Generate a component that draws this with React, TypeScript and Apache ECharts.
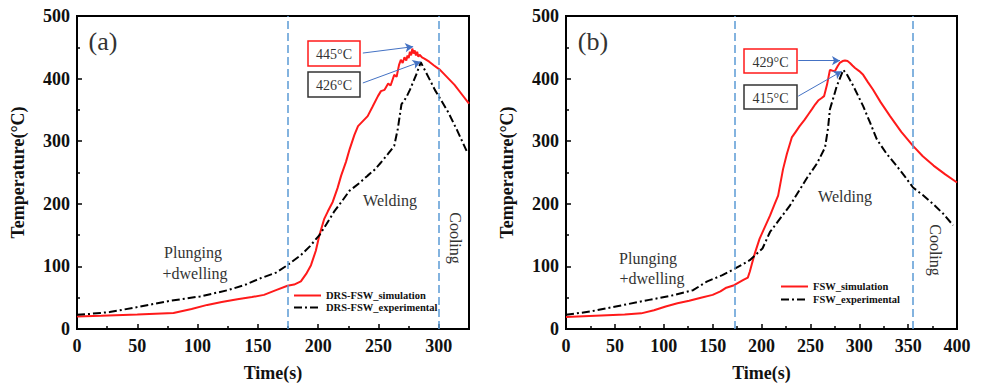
import React, { useEffect, useRef } from "react";
import * as echarts from "echarts";

const FONT = '"Liberation Serif", "Times New Roman", serif';

// Panel (a): DRS-FSW
const aSimX = [0, 20, 50, 80, 95, 108, 120, 133, 145, 155, 165, 174.5, 180, 185.6, 190, 194, 198, 201, 205, 208, 212, 216, 219, 223, 226, 230, 233, 237, 241, 245, 249.5, 252, 255, 258, 260, 263, 265, 267, 268.5, 270, 271.5, 273, 274, 275, 276, 277, 278, 279, 280, 281, 282, 283, 284, 286, 288, 292, 296, 301, 307, 313, 319, 325];
const aSimY = [20, 21, 23, 25.5, 32, 38.5, 43, 47.5, 51, 54.5, 62, 69, 71, 76, 88, 102, 125, 150, 176, 188, 203, 225, 245, 267, 287, 310, 324, 332, 340, 355, 372, 380, 382, 392, 389, 406, 403, 422, 430, 425, 434, 429, 437, 433, 443, 437, 448, 440, 445, 437, 443, 435, 438, 434, 432, 427, 421, 414, 402, 390, 375, 360];
const aExpX = [0, 10, 27, 50, 77, 102, 125, 140, 152, 165, 174.5, 185.6, 193, 201, 207, 213, 220, 226, 234, 241, 247, 252, 258, 263, 266, 269, 273, 276, 281, 285, 288, 292, 296.7, 302, 308, 315, 323];
const aExpY = [22.7, 24, 27, 35, 45, 52, 62, 71, 81, 90, 102, 118, 132, 150, 168, 187, 205, 221, 233, 245, 255, 266, 280, 292.5, 320, 359, 370, 382, 405, 426, 415, 400, 382, 365, 345.5, 318, 284.6];

// Panel (b): FSW
const bSimX = [0, 30, 60, 77, 90, 102, 114, 126, 138, 150, 158, 164, 172, 181, 186, 188, 190, 193, 198, 202, 208.7, 213, 217, 222, 226, 231, 235, 239, 244, 248, 252, 255, 258, 261.6, 264, 267, 270, 272, 275, 278, 280, 283, 285.4, 288, 290.5, 293, 295.7, 300, 304, 309, 314, 322, 331.5, 343, 355, 365, 376, 388, 400];
const bSimY = [19, 21, 23, 25, 30, 36, 41, 45, 50, 54.5, 60, 66, 70, 78, 82, 91.5, 103, 120, 144, 158, 181, 198, 213, 255, 280, 306, 315, 324, 334, 343, 352, 359, 365, 369, 372, 390, 414, 413, 411.6, 420, 425, 428, 429, 428, 425, 421, 417, 412, 406, 394, 382.5, 362, 340, 315, 292.5, 276, 261, 247, 234];
const bExpX = [0, 25, 51, 85, 110, 130, 144, 160, 172, 188, 201, 208.7, 229, 246, 257, 265, 268, 270, 274, 277, 283.7, 288, 294, 299, 304, 311, 318, 328, 338, 346, 355, 365, 376, 386, 396];
const bExpY = [22.7, 28, 36, 46.5, 54, 62, 75.7, 86, 95.7, 110, 128.6, 155, 197, 240, 265, 290, 320, 351, 372, 388, 414, 405, 388, 372, 356, 330, 303, 280, 261, 245, 226, 214, 199, 184, 165.6];

const aPhaseLines = [175, 300];
const bPhaseLines = [173, 355];
const aPeaks = { sim: 445, exp: 426 };
const bPeaks = { sim: 429, exp: 415 };

const zip = (xs: number[], ys: number[]) => xs.map((x, i) => [x, ys[i]]);

export default function App() {
  const ref = useRef<HTMLDivElement>(null);
  useEffect(() => {
    if (!ref.current) return;
    const chart = echarts.init(ref.current, null, { renderer: "svg" });

    const axisLabel = { fontFamily: FONT, fontWeight: "bold", fontSize: 18, color: "#111" };
    const nameStyle = { fontFamily: FONT, fontWeight: "bold", fontSize: 18, color: "#111" };
    const mkX = (gi: number, max: number) => ({
      type: "value", gridIndex: gi, min: 0, max, interval: 50,
      axisLine: { show: true, lineStyle: { color: "#000", width: 2 } },
      axisTick: { show: true, inside: true, length: 5, lineStyle: { color: "#000", width: 1.5 } },
      minorTick: { show: true, splitNumber: 2, length: 3, lineStyle: { color: "#000", width: 1.5 } },
      splitLine: { show: false },
      axisLabel: { ...axisLabel, margin: 8, showMaxLabel: max % 50 === 0 },
      name: "Time(s)", nameLocation: "middle", nameGap: 35, nameTextStyle: nameStyle,
    });
    const mkY = (gi: number) => ({
      type: "value", gridIndex: gi, min: 0, max: 500, interval: 100,
      axisLine: { show: true, lineStyle: { color: "#000", width: 2 } },
      axisTick: { show: true, inside: true, length: 5, lineStyle: { color: "#000", width: 1.5 } },
      minorTick: { show: true, splitNumber: 2, length: 3, lineStyle: { color: "#000", width: 1.5 } },
      splitLine: { show: false },
      axisLabel: { ...axisLabel, margin: 7 },
      name: "Temperature(°C)", nameLocation: "middle", nameGap: 50, nameTextStyle: nameStyle,
    });

    const vLines = (xs: number[]) => ({
      silent: true, symbol: "none", animation: false,
      label: { show: false },
      lineStyle: { color: "#5B9BD5", type: [8, 4], width: 1.5 },
      data: xs.map((x) => ({ xAxis: x })),
    });
    const arrows = (pairs: number[][][]) => ({
      silent: true, animation: false, symbol: ["none", "arrow"], symbolSize: [7, 8],
      label: { show: false },
      lineStyle: { color: "#4472C4", type: "solid", width: 1 },
      data: pairs.map(([s, e]) => [{ coord: s }, { coord: e }]),
    });

    const red = "#FF1A1A";
    const dashDot = [8, 3, 2, 3];

    const series: any[] = [
      {
        name: "DRS-FSW_simulation", type: "line", xAxisIndex: 0, yAxisIndex: 0,
        data: zip(aSimX, aSimY), symbol: "none", lineStyle: { color: red, width: 2 }, itemStyle: { color: red },
        markLine: vLines(aPhaseLines),
      },
      {
        name: "DRS-FSW_experimental", type: "line", xAxisIndex: 0, yAxisIndex: 0,
        data: zip(aExpX, aExpY), symbol: "none", lineStyle: { color: "#000", width: 2, type: dashDot }, itemStyle: { color: "#000" },
        markLine: arrows([
          [[237, 440.8], [278.7, 451]],
          [[237, 393], [285, aPeaks.exp + 1]],
        ]),
      },
      {
        name: "FSW_simulation", type: "line", xAxisIndex: 1, yAxisIndex: 1,
        data: zip(bSimX, bSimY), symbol: "none", lineStyle: { color: red, width: 2 }, itemStyle: { color: red },
        markLine: vLines(bPhaseLines),
      },
      {
        name: "FSW_experimental", type: "line", xAxisIndex: 1, yAxisIndex: 1,
        data: zip(bExpX, bExpY), symbol: "none", lineStyle: { color: "#000", width: 2, type: dashDot }, itemStyle: { color: "#000" },
        markLine: arrows([
          [[237.6, 428.6], [280.3, 428.6]],
          [[237.6, 372], [282, 411.6]],
        ]),
      },
    ];

    const legendText = { fontFamily: FONT, fontWeight: "bold", fontSize: 10.5, color: "#111" };
    const txt = (text: string, x: number, y: number, size: number, extra: any = {}) => ({
      type: "text", x, y, ...extra,
      style: { text, fontFamily: FONT, fontSize: size, fill: "#333", align: "center", verticalAlign: "middle" },
    });
    const box = (x: number, y: number, w: number, h: number, stroke: string, label: string) => ([
      { type: "rect", shape: { x, y, width: w, height: h }, style: { fill: "#fff", stroke, lineWidth: 1.5 } },
      txt(label, x + w / 2, y + h / 2 + 1, 14),
    ]);
    const legendCommon = {
      orient: "vertical", itemWidth: 27, itemHeight: 10, padding: 0, textStyle: legendText,
      itemStyle: { opacity: 0, borderWidth: 0 },
    };

    chart.setOption({
      animation: false,
      backgroundColor: "#fff",
      grid: [
        { left: 77, top: 16, width: 392, height: 315, show: true, borderColor: "#000", borderWidth: 2, backgroundColor: "transparent" },
        { left: 566, top: 16, width: 391, height: 315, show: true, borderColor: "#000", borderWidth: 2, backgroundColor: "transparent" },
      ],
      xAxis: [mkX(0, 325), mkX(1, 400)],
      yAxis: [mkY(0), mkY(1)],
      legend: [
        { ...legendCommon, data: ["DRS-FSW_simulation", "DRS-FSW_experimental"], left: 293, top: 290, itemGap: 1 },
        { ...legendCommon, data: ["FSW_simulation", "FSW_experimental"], left: 780, top: 281, itemGap: 2 },
      ],
      series,
      graphic: [
        txt("(a)", 103, 41, 26, {}),
        txt("(b)", 593, 41, 26, {}),
        txt("Plunging", 193, 252, 16),
        txt("+dwelling", 195, 273, 16),
        txt("Welding", 390, 200, 16),
        txt("Cooling", 455, 238, 16, { rotation: -Math.PI / 2 }),
        txt("Plunging", 648, 258, 16),
        txt("+dwelling", 652, 278, 16),
        txt("Welding", 845, 196, 16),
        txt("Cooling", 935, 250, 16, { rotation: -Math.PI / 2 }),
        ...box(308, 41, 52, 25, "#FF1A1A", `${aPeaks.sim}°C`),
        ...box(308, 72, 52, 25, "#333", `${aPeaks.exp}°C`),
        ...box(744, 49, 53, 24, "#FF1A1A", `${bPeaks.sim}°C`),
        ...box(744, 85, 53, 24, "#333", `${bPeaks.exp}°C`),
      ],
    });
    return () => chart.dispose();
  }, []);
  return <div ref={ref} style={{ position: "fixed", left: 0, top: 0, width: 982, height: 387, background: "#fff" }} />;
}
